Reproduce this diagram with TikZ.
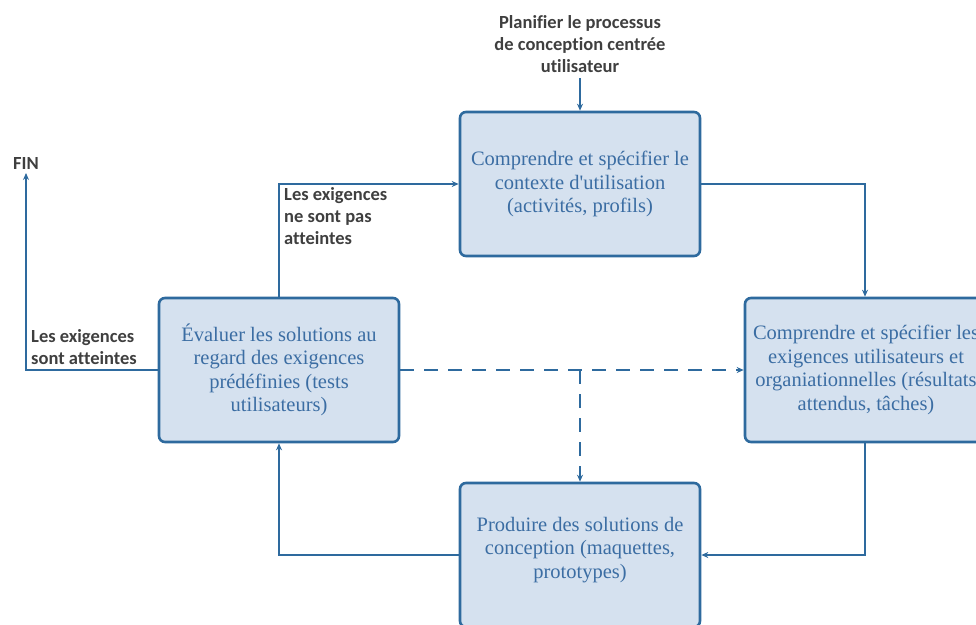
\documentclass[tikz,border=0pt]{standalone}
\usepackage{fontspec}
\setmainfont{Liberation Serif}
\newfontfamily\boxserif{Liberation Serif}
\newfontfamily\lblfont{Carlito}[Ligatures=NoCommon]
\usetikzlibrary{arrows.meta}
\definecolor{lineblue}{HTML}{2E6A9E}
\definecolor{boxfill}{HTML}{D5E1EF}
\definecolor{boxtext}{HTML}{3B6DA3}
\definecolor{lbltext}{HTML}{3F3F3F}
\begin{document}
\begin{tikzpicture}[x=1pt,y=-1pt,
  procbox/.style={draw=lineblue, line width=2.6pt, fill=boxfill, rounded corners=6pt,
    minimum width=240pt, minimum height=144pt, align=center, text=boxtext,
    font=\boxserif\fontsize{20.5}{23.5}\selectfont, inner sep=0pt},
  boxlabel/.style={text=boxtext, font=\boxserif\fontsize{20.5}{23.5}\selectfont, align=center, inner sep=0pt},
  conn/.style={draw=lineblue, line width=2.6pt, -{Stealth[length=7pt,width=6pt]}},
  dconn/.style={conn, dash pattern=on 14pt off 10pt},
  lbl/.style={text=lbltext, font=\lblfont\bfseries\fontsize{18.5}{22.3}\selectfont, inner sep=0pt}
]
\useasboundingbox (0,0) rectangle (976,624);
\clip (0,0) rectangle (976,624);
\node[procbox] (ctx) at (580,184) {Comprendre et spécifier le\\contexte d'utilisation\\(activités, profils)};
\node[procbox] (req) at (865,370) {};
\node[boxlabel] (reqtxt) at (866,370) {Comprendre et spécifier les\\exigences utilisateurs et\\organiationnelles (résultats\\attendus, tâches)};
\node[procbox] (eval) at (279,370) {Évaluer les solutions au\\regard des exigences\\prédéfinies (tests\\utilisateurs)};
\node[procbox] (prod) at (580,555) {};
\node[boxlabel] (prodtxt) at (580,550) {Produire des solutions de\\conception (maquettes,\\prototypes)};

\node[lbl, align=center, anchor=north] (plan) at (580,15) {Planifier le processus\\de conception centrée\\utilisateur};
\node[lbl, anchor=center] (fin) at (26,163) {FIN};
\coordinate (finpt) at (26,173);
\coordinate (planpt) at (580,78);
\node[lbl, align=left, anchor=north west] (notmet) at (284,187) {Les exigences\\ne sont pas\\atteintes};
\node[lbl, align=left, anchor=north west] (met) at (31,329) {Les exigences\\sont atteintes};

\draw[conn] (planpt) -- (ctx.north);
\draw[conn] (ctx.east) -| (req.north);
\draw[conn] (req.south) |- (prod.east);
\draw[conn] (prod.west) -| (eval.south);
\draw[conn] (eval.north) |- (ctx.west);
\draw[conn] (eval.west) -| (finpt);
\draw[dconn] (eval.east) -- (req.west);
\coordinate (split) at (580,370);
\draw[dconn] (split) -- (prod.north);
\end{tikzpicture}
\end{document}
